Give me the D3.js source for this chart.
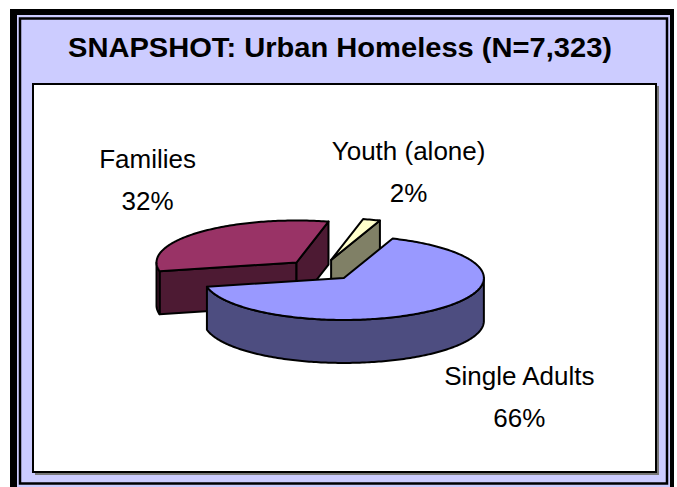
<!DOCTYPE html>
<html lang="en">
<head>
<meta charset="UTF-8">
<title>Urban Homeless</title>
<script src="https://d3js.org/d3.v7.min.js"></script>
<style>
  body { margin: 0; background: #fff; }
  text { font-family: "Liberation Sans", Arial, sans-serif; }
</style>
</head>
<body>
<svg></svg>
<script>
const categories = ["Families", "Youth (alone)", "Single Adults"];
const shares = [32, 2, 66];
const pctLabels = ["32%", "2%", "66%"];
const topColors = ["#993366", "#FFFFCC", "#9999FF"];
const sideColors = ["#4D1A33", "#808066", "#4D4D80"];
const title = "SNAPSHOT: Urban Homeless (N=7,323)";

const w = 677, h = 487;
const cx = 321, cy = 270;      // pie centre before exploding
const rx = 140, ry = 42;       // ellipse radii of the top face
const depth = 43;              // thickness of the pie
const explode = 35;
const firstAngle = 258;        // degrees, clockwise from 12 o'clock
// label nudges from the rim point at the middle of each slice
const labelNudge = [[-51, -64], [37, -60], [84, 75]];

const svg = d3.select("svg").attr("width", w).attr("height", h);

// frame
svg.append("rect").attr("x", 10).attr("y", 9).attr("width", 664).attr("height", 478).attr("fill", "#000");
svg.append("rect").attr("x", 17).attr("y", 15).attr("width", 653).attr("height", 472).attr("fill", "#CCCCFF");
svg.append("rect").attr("x", 20).attr("y", 18.5).attr("width", 647).attr("height", 465)
    .attr("fill", "#CCCCFF").attr("stroke", "#000").attr("stroke-width", 2.5);
svg.append("rect").attr("x", 35).attr("y", 86).attr("width", 624).attr("height", 389).attr("fill", "#777");
svg.append("rect").attr("x", 33).attr("y", 84).attr("width", 623).attr("height", 388)
    .attr("fill", "#fff").attr("stroke", "#000").attr("stroke-width", 2);

svg.append("text")
    .attr("x", 340).attr("y", 57)
    .attr("text-anchor", "middle")
    .attr("font-size", 28).attr("font-weight", "bold")
    .attr("textLength", 544).attr("lengthAdjust", "spacingAndGlyphs")
    .text(title);

const rad = Math.PI / 180;
const TAU = 2 * Math.PI;
const pie = d3.pie()
    .value(d => d)
    .sort(null)
    .startAngle(firstAngle * rad)
    .endAngle((firstAngle + 360) * rad);

const slices = pie(shares).map((p, i) => {
    // maths angles, anticlockwise from 3 o'clock
    let hi = Math.PI / 2 - p.startAngle;
    let lo = Math.PI / 2 - p.endAngle;
    const shift = Math.floor((lo + Math.PI) / TAU) * TAU;
    hi -= shift; lo -= shift;
    const mid = (hi + lo) / 2;
    const c = [cx + explode * Math.cos(mid), cy - explode * (ry / rx) * Math.sin(mid)];
    return { i, hi, lo, mid, c };
});

const pt = (c, a, z) => [c[0] + rx * Math.cos(a), c[1] - ry * Math.sin(a) + z];
const line = d3.line();

function rim(c, from, to, z) {
    const n = Math.max(2, Math.ceil(Math.abs(to - from) / rad));
    return d3.range(n + 1).map(k => pt(c, from + (to - from) * k / n, z));
}

// back slices first
const order = slices.slice().sort((a, b) => Math.sin(b.mid) - Math.sin(a.mid));

order.forEach(s => {
    const g = svg.append("g");
    const side = sideColors[s.i];
    const style = sel => sel.attr("stroke", "#000").attr("stroke-width", 2)
        .attr("stroke-linejoin", "round");

    // cut faces
    const faces = [];
    if (Math.cos(s.hi) < 0) faces.push(s.hi);
    if (Math.cos(s.lo) > 0) faces.push(s.lo);
    faces.forEach(a => {
        const c0 = [s.c[0], s.c[1]], c1 = [s.c[0], s.c[1] + depth];
        g.append("path")
            .attr("d", line([c0, pt(s.c, a, 0), pt(s.c, a, depth), c1]) + "Z")
            .attr("fill", side).call(style);
    });

    // outer wall, front half only
    [-2, -1, 0, 1, 2].forEach(k => {
        const a0 = Math.max(s.lo, Math.PI + TAU * k);
        const a1 = Math.min(s.hi, TAU + TAU * k);
        if (a1 - a0 > 1e-4) {
            const topEdge = rim(s.c, a0, a1, 0);
            const botEdge = rim(s.c, a1, a0, depth);
            g.append("path")
                .attr("d", line(topEdge.concat(botEdge)) + "Z")
                .attr("fill", side).call(style);
        }
    });

    // top face
    const top = [s.c].concat(rim(s.c, s.hi, s.lo, 0));
    g.append("path")
        .attr("d", line(top) + "Z")
        .attr("fill", topColors[s.i]).call(style);
});

// labels
slices.forEach(s => {
    const r = pt(s.c, s.mid, 0);
    const x = r[0] + labelNudge[s.i][0];
    const y = r[1] + labelNudge[s.i][1];
    svg.append("text").attr("x", x).attr("y", y)
        .attr("text-anchor", "middle").attr("font-size", 26)
        .text(categories[s.i]);
    svg.append("text").attr("x", x).attr("y", y + 42)
        .attr("text-anchor", "middle").attr("font-size", 26)
        .text(pctLabels[s.i]);
});
</script>
</body>
</html>
